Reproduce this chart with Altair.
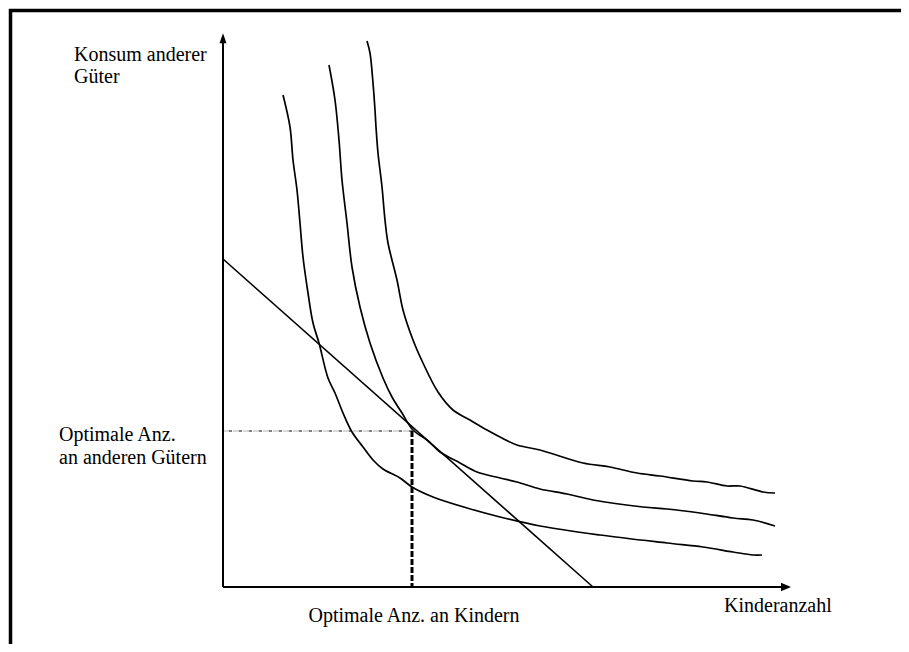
import altair as alt
import pandas as pd

# Values in chart units: x = children, y = other goods (origin at axis crossing)
curve1_x = [6.0, 6.7, 7.0, 7.4, 7.7, 8.0, 8.5, 9.0, 9.6, 10.5, 11.2, 12.0, 12.9, 14.0, 15.0, 16.0,
            17.7, 18.9, 21.0, 24.4, 27.7, 31.7, 37.7, 44.4, 48.0, 51.0, 53.0, 53.9]
curve1_y = [49.2, 46.0, 42.7, 39.7, 36.4, 33.0, 29.4, 26.4, 24.4, 20.9, 19.4, 17.4, 15.5, 14.0, 12.7, 11.8,
            10.9, 10.0, 9.0, 7.9, 7.0, 6.1, 5.2, 4.4, 4.0, 3.5, 3.2, 3.2]

curve2_x = [10.6, 11.2, 11.6, 11.9, 12.4, 12.9, 13.7, 14.7, 16.0, 16.9, 17.9, 19.0, 20.4, 21.7, 23.7,
            25.4, 27.7, 29.4, 31.7, 34.4, 37.0, 42.0, 44.4, 47.7, 51.0, 53.0, 55.2]
curve2_y = [52.2, 48.7, 44.7, 40.7, 36.4, 32.0, 28.0, 24.4, 20.9, 19.0, 17.4, 15.7, 14.7, 13.5, 12.4,
            11.5, 10.9, 10.5, 9.8, 9.3, 8.7, 8.0, 7.8, 7.4, 6.9, 6.7, 6.1]

curve3_x = [14.4, 14.7, 15.0, 15.2, 15.3, 15.5, 15.9, 16.2, 16.5, 17.4, 18.0, 19.0, 20.0, 21.5,
            23.0, 24.7, 26.4, 27.7, 29.4, 31.7, 36.0, 38.7, 41.4, 43.7, 47.0, 48.4, 50.4, 51.7, 54.0, 55.2]
curve3_y = [54.6, 53.4, 50.4, 47.7, 46.0, 43.4, 40.0, 36.7, 34.4, 30.7, 27.7, 24.7, 22.4, 19.5,
            17.7, 16.7, 15.7, 15.0, 14.2, 13.7, 12.4, 12.0, 11.4, 11.1, 10.6, 10.5, 10.1, 10.1, 9.5, 9.4]

budget_x = [0.0, 37.0]
budget_y = [32.8, 0.0]

optimum_x = 18.9
optimum_y = 15.6

axis_y_top = 54.4
axis_x_right = 55.9
arrow_y_pos = [0.0, 54.87]
arrow_x_pos = [56.3, 0.0]

labels_text = ["Konsum anderer", "Güter", "Optimale Anz.", "an anderen Gütern", "Kinderanzahl"]
labels_x = [-14.9, -14.9, -16.4, -16.4, 50.1]
labels_y = [52.6, 50.4, 14.6, 12.3, -2.47]

center_label = "Optimale Anz. an Kindern"
center_label_x = 19.1
center_label_y = -3.47

# frame (top and left border of the figure)
frame_x = [-21.4, -21.25, 67.8, -21.25]
frame_y = [57.65, 57.8, 57.65, -5.7]

XDOM = [-21.5, 67.8]
YDOM = [-5.7, 57.9]
xs = alt.Scale(domain=XDOM, nice=False, zero=False)
ys = alt.Scale(domain=YDOM, nice=False, zero=False)

rows = []
for name, cx, cy in [("I1", curve1_x, curve1_y), ("I2", curve2_x, curve2_y), ("I3", curve3_x, curve3_y)]:
    for i, (a, b) in enumerate(zip(cx, cy)):
        rows.append({"series": name, "x": a, "y": b, "i": i})
curves_df = pd.DataFrame(rows)

FONT = "Liberation Serif"

X = lambda f="x": alt.X(f + ":Q", scale=xs, axis=None)
Y = lambda f="y": alt.Y(f + ":Q", scale=ys, axis=None)

frame_df = pd.DataFrame({
    "x": [frame_x[0], frame_x[1]], "y": [frame_y[0], frame_y[1]],
    "x2": [frame_x[2], frame_x[3]], "y2": [frame_y[2], frame_y[3]],
})
frame = alt.Chart(frame_df).mark_rule(color="black", strokeWidth=3.5).encode(
    x=X(), y=Y(), x2="x2:Q", y2="y2:Q"
)

curves = alt.Chart(curves_df).mark_line(color="black", strokeWidth=1.7, interpolate="catmull-rom").encode(
    x=X(), y=Y(), detail="series:N", order="i:Q",
)

budget = alt.Chart(pd.DataFrame({"x": budget_x, "y": budget_y})).mark_line(
    color="black", strokeWidth=1.6
).encode(x=X(), y=Y())

axes_df = pd.DataFrame({"x": [0.0, 0.0], "y": [0.0, 0.0], "x2": [0.0, axis_x_right], "y2": [axis_y_top, 0.0]})
axes = alt.Chart(axes_df).mark_rule(color="black", strokeWidth=2).encode(
    x=X(), y=Y(), x2="x2:Q", y2="y2:Q"
)

arrow_up = alt.Chart(pd.DataFrame({"x": [arrow_y_pos[0]], "y": [arrow_y_pos[1]]})).mark_point(
    shape="M0,-1L0.7,1L-0.7,1Z", size=100, filled=True, color="black", opacity=1
).encode(x=X(), y=Y())

arrow_right = alt.Chart(pd.DataFrame({"x": [arrow_x_pos[0]], "y": [arrow_x_pos[1]]})).mark_point(
    shape="M1,0L-1,-0.85L-1,0.85Z", size=100, filled=True, color="black", opacity=1
).encode(x=X(), y=Y())

hdf = pd.DataFrame({"x": [0.0], "x2": [optimum_x], "y": [optimum_y], "y2": [optimum_y]})
h_gray = alt.Chart(hdf).mark_rule(color="#b0b0b0", strokeWidth=1, strokeDash=[6, 4]).encode(
    x=X(), x2="x2:Q", y=Y(), y2="y2:Q"
)
h_black = alt.Chart(hdf).mark_rule(color="black", strokeWidth=1, strokeDash=[3, 7], strokeDashOffset=4).encode(
    x=X(), x2="x2:Q", y=Y(), y2="y2:Q"
)

vdf = pd.DataFrame({"x": [optimum_x], "x2": [optimum_x], "y": [optimum_y], "y2": [0.0]})
v_dash = alt.Chart(vdf).mark_rule(color="black", strokeWidth=3, strokeDash=[6, 2]).encode(
    x=X(), x2="x2:Q", y=Y(), y2="y2:Q"
)

labels = alt.Chart(pd.DataFrame({"t": labels_text, "x": labels_x, "y": labels_y})).mark_text(
    font=FONT, fontSize=20, align="left", baseline="alphabetic", color="black"
).encode(x=X(), y=Y(), text="t:N")

clabel = alt.Chart(pd.DataFrame({"t": [center_label], "x": [center_label_x], "y": [center_label_y]})).mark_text(
    font=FONT, fontSize=20, align="center", baseline="alphabetic", color="black"
).encode(x=X(), y=Y(), text="t:N")

chart = alt.layer(
    frame, h_gray, h_black, v_dash, budget, curves, axes, arrow_up, arrow_right, labels, clabel
).properties(
    width=893, height=636, padding=0, background="white",
    autosize=alt.AutoSizeParams(type="none"),
).configure_view(stroke=None)

chart.save("out.html", embed_options={"renderer": "svg", "actions": False})
